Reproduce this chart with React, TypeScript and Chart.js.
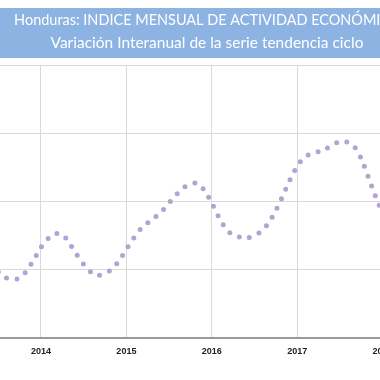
import React, { useEffect, useRef } from "react";
import { Chart, registerables } from "chart.js";

Chart.register(...registerables);

const TITLE = "Honduras: INDICE MENSUAL DE ACTIVIDAD ECONÓMICA";
const SUBTITLE = "Variación Interanual de la serie tendencia ciclo";
const YEAR_TICKS = [2014, 2015, 2016, 2017, 2018];
const START_YEAR = 2013;
const START_MONTH = 7; // July 2013
// Variación interanual (%) – monthly, Jul 2013 .. Feb 2018
const VALUES = [
  2.97, 2.89, 2.86, 2.88, 2.99, 3.15,
  3.33, 3.46, 3.53, 3.52, 3.39, 3.23, 3.08, 2.97, 2.92, 2.95, 3.01, 3.14,
  3.30, 3.46, 3.60, 3.69, 3.77, 3.86, 3.98, 4.10, 4.20, 4.26, 4.27, 4.16,
  3.98, 3.77, 3.60, 3.51, 3.48, 3.47, 3.50, 3.57, 3.69, 3.87, 4.09, 4.32,
  4.52, 4.65, 4.70, 4.73, 4.77, 4.83, 4.88, 4.87, 4.81, 4.63, 4.36, 4.08,
  3.83, 3.60,
];

const POINTS = VALUES.map((v, i) => ({
  x: START_YEAR + (START_MONTH - 1 + i) / 12,
  y: v,
}));

function fitFont(ctx: any, text: string, targetWidth: number) {
  ctx.font = "15px Lato";
  const w = ctx.measureText(text).width;
  const size = Math.min(17, Math.max(12, (15 * targetWidth) / w));
  ctx.font = size.toFixed(2) + "px Lato";
}

const bannerPlugin = {
  id: "banner",
  beforeDraw(chart: any) {
    const ctx = chart.ctx;
    ctx.save();
    ctx.fillStyle = "#8db3e2";
    ctx.fillRect(0, 8, chart.width, 50);
    ctx.fillStyle = "#ffffff";
    ctx.textAlign = "center";
    ctx.textBaseline = "alphabetic";
    fitFont(ctx, TITLE, 386);
    ctx.fillText(TITLE, 207, 24.5);
    fitFont(ctx, SUBTITLE, 313);
    ctx.fillText(SUBTITLE, 207, 47.5);
    ctx.restore();
  },
};

export default function App() {
  const ref = useRef<HTMLCanvasElement | null>(null);

  useEffect(() => {
    if (!ref.current) return;
    const chart = new Chart(ref.current, {
      type: "line",
      data: {
        datasets: [
          {
            data: POINTS,
            borderColor: "#b3a2d3",
            borderWidth: 5,
            borderDash: [0, 10.4],
            borderCapStyle: "round",
            pointRadius: 0,
            tension: 0.25,
            fill: false,
          },
        ],
      },
      options: {
        animation: false,
        responsive: false,
        maintainAspectRatio: false,
        layout: { padding: { top: 65, left: 0, right: 0, bottom: 15 } },
        plugins: {
          legend: { display: false },
          tooltip: { enabled: false },
          title: { display: false },
        },
        scales: {
          x: {
            type: "linear",
            min: 2013.52,
            max: 2019.024,
            afterBuildTicks: (scale: any) => {
              scale.ticks = YEAR_TICKS.map((v) => ({ value: v }));
            },
            grid: { color: "#d9d9d9", lineWidth: 1, drawTicks: false },
            border: { color: "#9a9a9a", width: 2 },
            ticks: {
              padding: 8,
              color: "#222222",
              font: { family: "Liberation Sans", size: 9, weight: "bold" },
              maxRotation: 0,
              autoSkip: false,
              callback: (v: any) => String(v),
            },
          },
          y: {
            min: 2,
            max: 6,
            ticks: { display: false, stepSize: 1 },
            grid: { color: "#d9d9d9", lineWidth: 1, drawTicks: false },
            border: { display: false },
          },
        },
      },
      plugins: [bannerPlugin],
    });
    return () => chart.destroy();
  }, []);

  return (
    <div
      style={{
        position: "fixed",
        left: 0,
        top: 0,
        width: 380,
        height: 380,
        overflow: "hidden",
        background: "#ffffff",
      }}
    >
      <canvas ref={ref} width={470} height={380} style={{ display: "block", width: 470, height: 380 }} />
    </div>
  );
}
